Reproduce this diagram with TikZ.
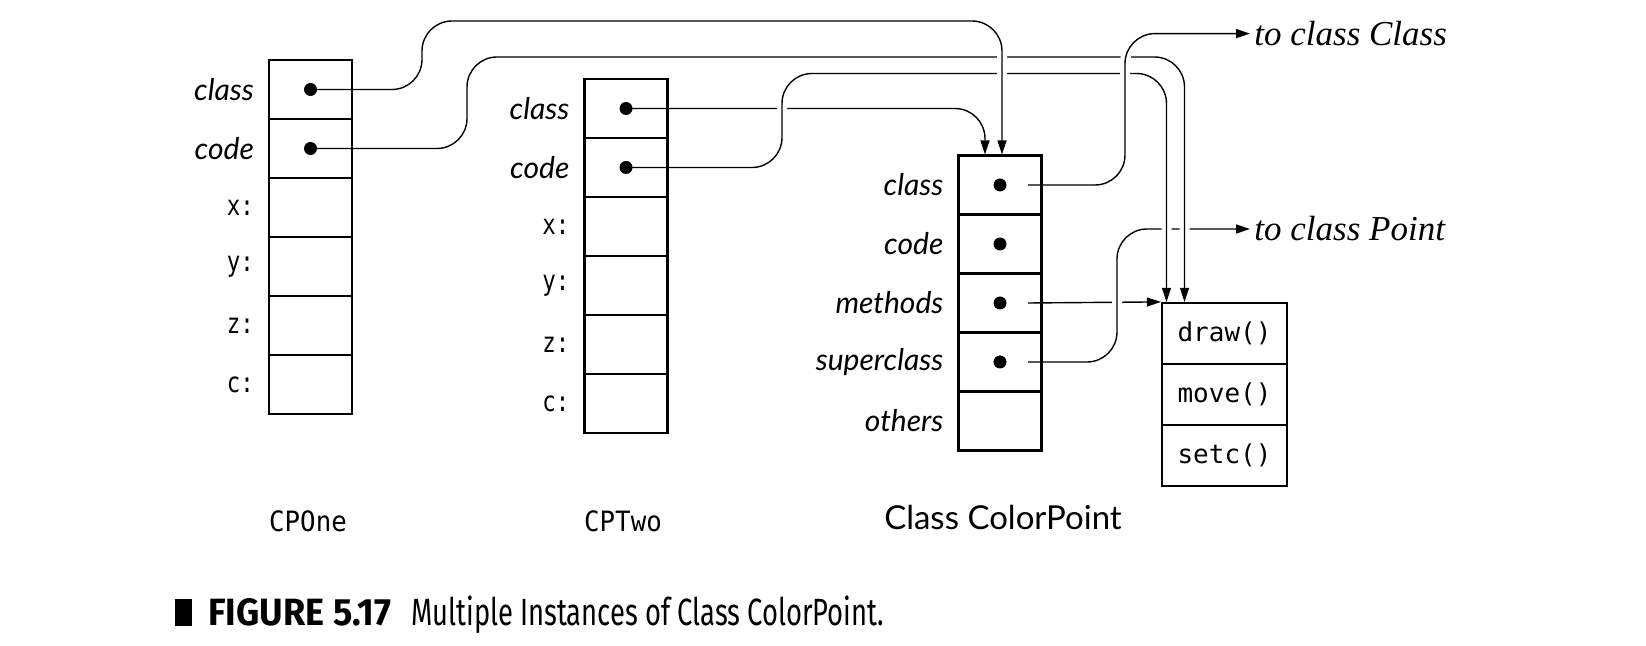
\documentclass[tikz,border=0pt]{standalone}
\usepackage{fontspec}
\setmainfont{Liberation Serif}
\setsansfont{Lato}
\setmonofont{DejaVu Sans Mono}
\newfontfamily\fieldfont[FakeStretch=0.8]{DejaVu Sans Mono}
\newfontfamily\titlefont[FakeStretch=0.92]{DejaVu Sans Mono}
\newfontfamily\capfont[FakeStretch=0.72]{Fira Sans}
\newfontfamily\capbold[FakeStretch=0.95]{Fira Sans}
\usetikzlibrary{arrows.meta}
\pgfdeclarelayer{back}
\pgfsetlayers{back,main}

\begin{document}
\begin{tikzpicture}[x=0.5pt,y=-0.5pt,label distance=3.5pt]
    \tikzstyle{cell}=[draw,line width=1.1pt,minimum width=41.5pt,minimum height=29.5pt,inner sep=0pt]
    \tikzstyle{method cell}=[cell,minimum width=62.5pt,minimum height=30.5pt,font=\ttfamily\fontsize{13}{15}\selectfont]
    \tikzstyle{slot}=[font=\sffamily\itshape\fontsize{15}{18}\selectfont]
    \tikzstyle{field}=[font=\fieldfont\fontsize{14}{16}\selectfont]
    \tikzstyle{solid node}=[circle,fill=black,inner sep=0pt,minimum size=6.5pt]
    \tikzstyle{pointer}=[line width=0.7pt,rounded corners=15pt,-{Triangle[length=7pt,width=4.5pt]},preaction={draw,white,line width=5pt,arrows=-}]
    \tikzstyle{target}=[anchor=west,inner sep=2pt,font=\itshape\fontsize{17.5}{20}\selectfont]
    \tikzstyle{title}=[font=\titlefont\fontsize{14}{16}\selectfont]

    \useasboundingbox (0,0) rectangle (1646,646);

    % object CPOne
    \node(a1)[cell,label={[slot]left:class}] at (310.5,89.5){};
    \node(a2)[cell,label={[slot]left:code}] at (310.5,148.5){};
    \node(a3)[cell,label={[field]left:x:}] at (310.5,207.5){};
    \node(a4)[cell,label={[field]left:y:}] at (310.5,266.5){};
    \node(a5)[cell,label={[field]left:z:}] at (310.5,325.5){};
    \node(a6)[cell,label={[field]left:c:}] at (310.5,384.5){};
    \node(pa1)[solid node] at (a1){};
    \node(pa2)[solid node] at (a2){};
    \node(n1)[title] at (308,521){CPOne};

    % object CPTwo
    \node(b1)[cell,label={[slot]left:class}] at (626,108.5){};
    \node(b2)[cell,label={[slot]left:code}] at (626,167.5){};
    \node(b3)[cell,label={[field]left:x:}] at (626,226.5){};
    \node(b4)[cell,label={[field]left:y:}] at (626,285.5){};
    \node(b5)[cell,label={[field]left:z:}] at (626,344.5){};
    \node(b6)[cell,label={[field]left:c:}] at (626,403.5){};
    \node(pb1)[solid node] at (b1){};
    \node(pb2)[solid node] at (b2){};
    \node(n2)[title] at (623,521){CPTwo};

    % class ColorPoint
    \node(c1)[cell,label={[slot]left:class}] at (1000,185){};
    \node(c2)[cell,label={[slot]left:code}] at (1000,244){};
    \node(c3)[cell,label={[slot]left:methods}] at (1000,303){};
    \node(c4)[cell,label={[slot]left:superclass}] at (1000,362){};
    \node(c5)[cell,label={[slot]left:others}] at (1000,421){};
    \node(pc1)[solid node] at (c1){};
    \node(pc2)[solid node] at (c2){};
    \node(pc3)[solid node] at (c3){};
    \node(pc4)[solid node] at (c4){};
    \node(n3)[font=\sffamily\fontsize{16.5}{19}\selectfont] at (1003,517){Class ColorPoint};

    % method table
    \node(m1)[method cell] at (1224.5,333.5){draw()};
    \node(m2)[method cell] at (1224.5,394.5){move()};
    \node(m3)[method cell] at (1224.5,455.5){setc()};

    \node(tc)[target] at (1250,33.6){to class Class};
    \node(tp)[target] at (1250,229){to class Point};

    \node(fig)[anchor=base west,inner sep=0pt,font=\capfont\fontsize{19}{22}\selectfont] at (175,626)
        {\rule{8.5pt}{13.5pt}\hspace{8pt}{\capbold\bfseries FIGURE 5.17}\hspace{10pt}Multiple Instances of Class ColorPoint.};

    % pointers, drawn behind the boxes
    \begin{pgfonlayer}{back}
        \draw[pointer] ([xshift=14pt]pc3.center) -- (m1.north west);
        \draw[pointer] ([xshift=14pt]pc4.center) -| (1117,229) -- (tp.west);
        \draw[pointer] (pb1.center) -| ([xshift=-7.5pt]c1.north);
        \draw[pointer] (pa2.center) -| (467,57) -| ([xshift=-20pt]m1.north);
        \draw[pointer] (pb2.center) -| (782,73.5) -| ([xshift=-29pt]m1.north);
        \draw[pointer] (pa1.center) -| (422,21) -| ([xshift=1pt]c1.north);
        \draw[pointer] ([xshift=14pt]pc1.center) -| (1125,33.6) -- (tc.west);
    \end{pgfonlayer}
\end{tikzpicture}
\end{document}
